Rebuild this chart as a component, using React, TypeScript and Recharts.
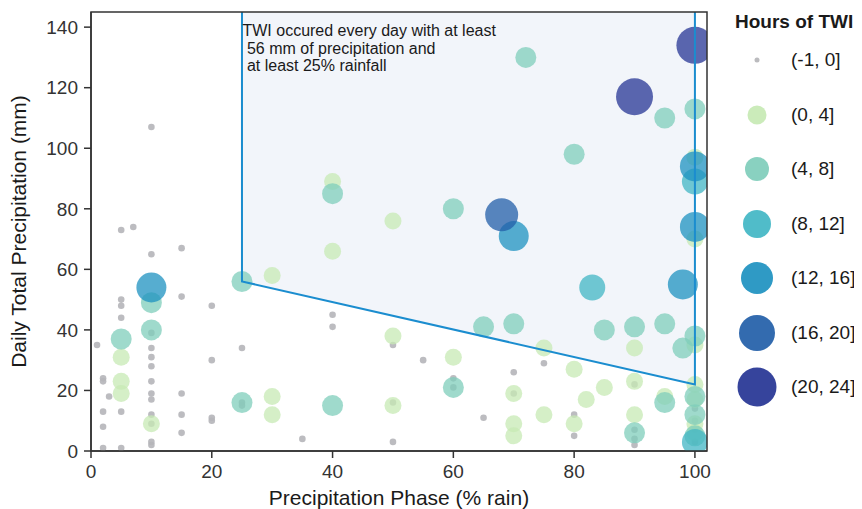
import {
  ScatterChart,
  Scatter,
  XAxis,
  YAxis,
  ReferenceArea,
  Legend,
} from "recharts";

const FONT = "'Liberation Sans', Arial, Helvetica, sans-serif";

// TWI hour bins, lowest first
const binLabels = ["(-1, 0]", "(0, 4]", "(4, 8]", "(8, 12]", "(12, 16]", "(16, 20]", "(20, 24]"];
const binColors = ["#b5b5b9", "#c7e9b4", "#7fcdbb", "#41b6c4", "#1d91c0", "#225ea8", "#253494"];
const plotRadius = [3.3, 8.5, 10.5, 13, 15, 16.5, 18.5];
const legendRadius = [2.5, 9.5, 12, 14, 16, 18, 19.5];

// [% rain, daily precip mm]
const hours0: number[][] = [
  [1, 35], [2, 24], [2, 23], [2, 13], [2, 8], [2, 1], [3, 18],
  [5, 73], [5, 50], [5, 48], [5, 44], [5, 13], [5, 1], [7, 74],
  [10, 107], [10, 65], [10, 39], [10, 34], [10, 31], [10, 28], [10, 23], [10, 19],
  [10, 17], [10, 12], [10, 9], [10, 3], [10, 2],
  [15, 67], [15, 51], [15, 19], [15, 12], [15, 6],
  [20, 48], [20, 30], [20, 11], [20, 10],
  [25, 34], [25, 16], [25, 15], [35, 4], [40, 45], [40, 41],
  [50, 35], [50, 16], [50, 3], [55, 30], [60, 24], [60, 21], [65, 11],
  [70, 26], [70, 19], [75, 29], [80, 12], [80, 5],
  [90, 22], [90, 7], [90, 4], [90, 2], [100, 14], [100, 10], [100, 7], [100, 3],
];
const hours0to4: number[][] = [
  [5, 31], [5, 23], [5, 19], [10, 9], [30, 58], [30, 18], [30, 12],
  [40, 89], [40, 66], [50, 76], [50, 38], [50, 15], [60, 31],
  [70, 19], [70, 9], [70, 5], [75, 34], [75, 12], [80, 27], [80, 9], [82, 17], [85, 21],
  [90, 34], [90, 23], [90, 12], [95, 18],
  [100, 97], [100, 70], [100, 35], [100, 22], [100, 17], [100, 9], [100, 6],
];
const hours4to8: number[][] = [
  [5, 37], [10, 49], [10, 40], [25, 56], [25, 16], [40, 85], [40, 15],
  [60, 80], [60, 21], [65, 41], [70, 42], [72, 130], [80, 98], [85, 40],
  [90, 41], [90, 6], [95, 110], [95, 42], [95, 16], [98, 34],
  [100, 113], [100, 38], [100, 18], [100, 12], [100, 5],
];
const hours8to12: number[][] = [[83, 54], [100, 89], [100, 3]];
const hours12to16: number[][] = [[10, 54], [70, 71], [98, 55], [100, 74], [100, 94]];
const hours16to20: number[][] = [[68, 78]];
const hours20to24: number[][] = [[90, 117], [100, 134]];

const bins = [hours0, hours0to4, hours4to8, hours8to12, hours12to16, hours16to20, hours20to24];

// shaded zone: at least 25% rain, precip threshold from 56 mm (25%) down to 22 mm (100%)
const zoneLeft = 25;
const zoneRight = 100;
const zoneLowLeft = 56;
const zoneLowRight = 22;
const yMax = 145;
const xMax = 102;

const noteLines = [
  "TWI occured every day with at least",
  " 56 mm of precipitation and",
  " at least 25% rainfall",
];

const xTicks = [0, 20, 40, 60, 80, 100];
const yTicks = [0, 20, 40, 60, 80, 100, 120, 140];

const zonePoints = (p: any) => {
  const { x, y, width, height } = p;
  const leftY = y + (height * (yMax - zoneLowLeft)) / (yMax - zoneLowRight);
  return { x, y, width, height, leftY };
};

const ZoneFill = (p: any) => {
  const { x, y, width, height, leftY } = zonePoints(p);
  return (
    <path
      d={`M${x},${y} L${x},${leftY} L${x + width},${y + height} L${x + width},${y} Z`}
      fill="#f2f5fa"
      fillOpacity={1}
      stroke="none"
    />
  );
};

const ZoneOutline = (p: any) => {
  const { x, y, width, height, leftY } = zonePoints(p);
  return (
    <g>
      <path
        d={`M${x},${y} L${x},${leftY} L${x + width},${y + height} L${x + width},${y}`}
        fill="none"
        stroke="#1b8dcf"
        strokeWidth={2}
      />
      <text fontFamily={FONT} fontSize={16} fill="#1a1a1a" style={{ whiteSpace: "pre" }}>
        {noteLines.map((line, i) => (
          <tspan key={i} x={x + 0.5} y={y + 24 + i * 17.5}>
            {line}
          </tspan>
        ))}
      </text>
    </g>
  );
};

const renderLegend = () => (
  <div style={{ fontFamily: FONT, color: "#1a1a1a", whiteSpace: "nowrap" }}>
    <div style={{ fontWeight: "bold", fontSize: 19, lineHeight: "22px" }}>Hours of TWI</div>
    {binLabels.map((label, i) => (
      <div key={label} style={{ display: "flex", alignItems: "center", height: 54.5 }}>
        <svg width={44} height={44}>
          <circle cx={22} cy={22} r={legendRadius[i]} fill={binColors[i]} fillOpacity={0.92} />
        </svg>
        <span style={{ marginLeft: 12, fontSize: 19 }}>{label}</span>
      </div>
    ))}
  </div>
);

export default function App() {
  return (
    <ScatterChart
      width={854}
      height={501}
      margin={{ top: 4, right: 155, bottom: 0, left: 6 }}
      style={{ fontFamily: FONT }}
    >
      <ReferenceArea
        x1={zoneLeft}
        x2={zoneRight}
        y1={zoneLowRight}
        y2={yMax}
        shape={ZoneFill}
        ifOverflow="visible"
      />
      <XAxis
        type="number"
        dataKey="x"
        domain={[0, xMax]}
        ticks={xTicks}
        allowDataOverflow
        height={58}
        tickSize={7}
        tickMargin={7}
        tick={{ fontSize: 19, fill: "#333" }}
        axisLine={{ stroke: "#333", strokeWidth: 1.5 }}
        tickLine={{ stroke: "#333", strokeWidth: 1.5 }}
        label={{
          value: "Precipitation Phase (% rain)",
          position: "insideBottom",
          offset: 4,
          style: { fontSize: 21, fill: "#1a1a1a" },
        }}
      />
      <YAxis
        type="number"
        dataKey="y"
        domain={[0, yMax]}
        ticks={yTicks}
        allowDataOverflow
        width={77}
        tickSize={7}
        tickMargin={6}
        tick={{ fontSize: 19, fill: "#333" }}
        axisLine={{ stroke: "#333", strokeWidth: 1.5 }}
        tickLine={{ stroke: "#333", strokeWidth: 1.5 }}
        label={{
          value: "Daily Total Precipitation (mm)",
          angle: -90,
          position: "insideLeft",
          offset: 5,
          style: { fontSize: 21, fill: "#1a1a1a", textAnchor: "middle" },
        }}
      />
      {bins.map((pts, i) => (
        <Scatter
          key={binLabels[i]}
          name={binLabels[i]}
          data={pts.map(([x, y]) => ({ x, y }))}
          isAnimationActive={false}
          shape={(p: any) => (
            <circle
              cx={p.cx}
              cy={p.cy}
              r={plotRadius[i]}
              fill={binColors[i]}
              fillOpacity={i === 0 ? 0.9 : 0.75}
            />
          )}
        />
      ))}
      <ReferenceArea
        x1={zoneLeft}
        x2={zoneRight}
        y1={zoneLowRight}
        y2={yMax}
        shape={ZoneOutline}
        ifOverflow="visible"
        zIndex={1000}
      />
      <ReferenceArea
        x1={0}
        x2={xMax}
        y1={0}
        y2={yMax}
        fill="none"
        fillOpacity={0}
        stroke="#333"
        strokeWidth={1.5}
        zIndex={1000}
      />
      <Legend
        layout="horizontal"
        verticalAlign="middle"
        align="center"
        content={renderLegend}
        wrapperStyle={{ left: 727, top: 3, width: 127 }}
      />
    </ScatterChart>
  );
}
